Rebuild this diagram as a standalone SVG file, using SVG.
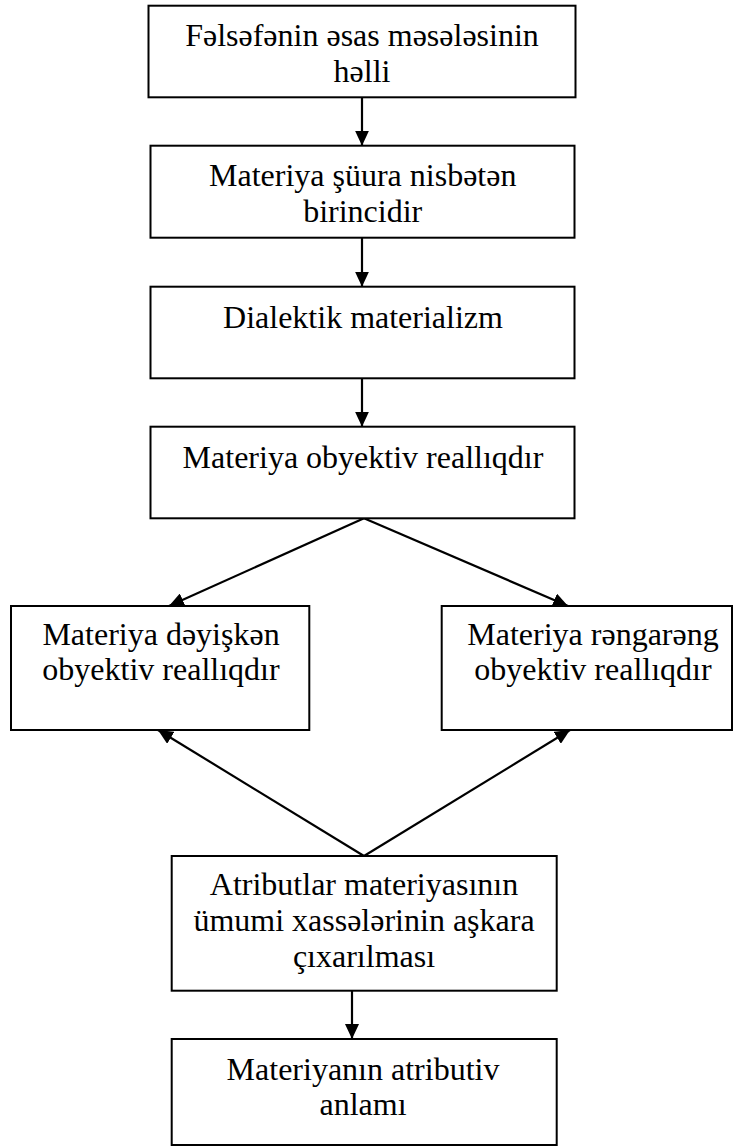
<svg xmlns="http://www.w3.org/2000/svg" width="733" height="1146" viewBox="0 0 733 1146">
<style>
.box{fill:#fff;stroke:#000;stroke-width:2}
.t{font-family:"Liberation Serif","Times New Roman",serif;font-size:32px;fill:#000;text-anchor:middle}
.c{stroke:#000;stroke-width:2.2;fill:none;marker-end:url(#ah)}
</style>
<defs>
<marker id="ah" markerUnits="userSpaceOnUse" markerWidth="15" markerHeight="14" refX="15" refY="7" orient="auto">
<path d="M0,0 L15,7 L0,14 z" fill="#000"/>
</marker>
</defs>
<rect width="733" height="1146" fill="#fff"/>
<g id="connectors">
<line class="c" x1="362" y1="97.3" x2="362" y2="145.7"/>
<line class="c" x1="362" y1="237.7" x2="362" y2="286.7"/>
<line class="c" x1="362" y1="378.3" x2="362" y2="426.7"/>
<line class="c" x1="364" y1="518.3" x2="169" y2="606"/>
<line class="c" x1="364" y1="518.3" x2="568" y2="606"/>
<line class="c" x1="364" y1="856" x2="158" y2="730"/>
<line class="c" x1="364" y1="856" x2="570" y2="730"/>
<line class="c" x1="352" y1="990.7" x2="352" y2="1039"/>
</g>
<g id="n1">
<rect class="box" x="148.5" y="5.7" width="427" height="91.6"/>
<text class="t" x="362" y="45.7">Fəlsəfənin əsas məsələsinin</text>
<text class="t" x="362" y="81.7">həlli</text>
</g>
<g id="n2">
<rect class="box" x="150.5" y="145.7" width="424" height="92"/>
<text class="t" x="362.7" y="185.7">Materiya şüura nisbətən</text>
<text class="t" x="362.7" y="221.7">birincidir</text>
</g>
<g id="n3">
<rect class="box" x="150.5" y="286.7" width="424" height="91.6"/>
<text class="t" x="363" y="328.3">Dialektik materializm</text>
</g>
<g id="n4">
<rect class="box" x="150.5" y="426.7" width="424" height="91.6"/>
<text class="t" x="363" y="468.3">Materiya obyektiv reallıqdır</text>
</g>
<g id="n5">
<rect class="box" x="11" y="606" width="298.3" height="124"/>
<text class="t" x="161" y="645">Materiya dəyişkən</text>
<text class="t" x="161" y="680">obyektiv reallıqdır</text>
</g>
<g id="n6">
<rect class="box" x="441.7" y="606" width="290.3" height="124"/>
<text class="t" x="593" y="645">Materiya rəngarəng</text>
<text class="t" x="593" y="680">obyektiv reallıqdır</text>
</g>
<g id="n7">
<rect class="box" x="171.7" y="856" width="385" height="134.7"/>
<text class="t" x="364" y="895">Atributlar materiyasının</text>
<text class="t" x="364" y="931">ümumi xassələrinin aşkara</text>
<text class="t" x="364" y="967">çıxarılması</text>
</g>
<g id="n8">
<rect class="box" x="171.7" y="1039" width="385" height="106"/>
<text class="t" x="363" y="1080">Materiyanın atributiv</text>
<text class="t" x="363" y="1115">anlamı</text>
</g>
</svg>
